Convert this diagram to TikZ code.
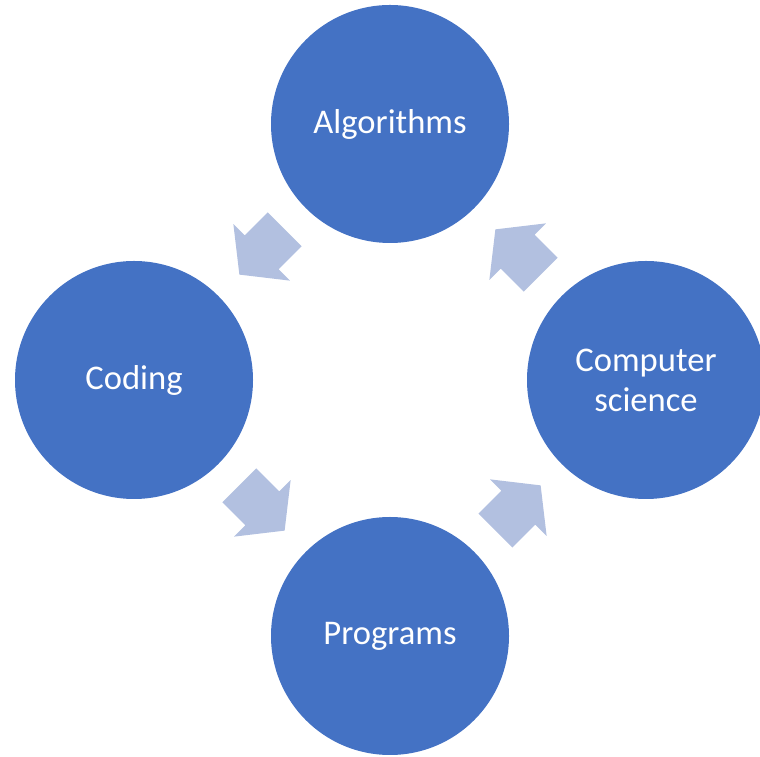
\documentclass[tikz,border=0pt]{standalone}
\usepackage{fontspec}
\setmainfont{Carlito}
\usetikzlibrary{calc}

\definecolor{circblue}{RGB}{68,114,196}
\definecolor{arrowblue}{RGB}{178,192,224}

\tikzset{
  stage/.style={circle, fill=circblue, minimum size=238pt, inner sep=0pt,
    text=white, align=center, font=\fontsize{34.6}{40}\selectfont},
  cyclearrow/.pic={
    \fill[arrowblue] (-32,24) -- (0.5,24) -- (0.5,40) -- (32,0)
      -- (0.5,-40) -- (0.5,-24) -- (-32,-24) -- cycle;
  }
}

\begin{document}
\begin{tikzpicture}[x=1pt,y=1pt]
  \useasboundingbox (0,0) rectangle (760,757);
  \clip (0,0) rectangle (760,757);

  % the four stages of the cycle
  \node[stage] (alg) at (390,633) {Algorithms};
  \node[stage] (cod) at (134,377) {Coding};
  \node[stage] (prg) at (390,121) {Programs};
  \node[stage] (cs)  at (646,377) {Computer\\science};

  % block arrows halfway between neighbouring stages
  \pic[rotate=225] at ($(alg)!0.5!(cod)$) {cyclearrow};
  \pic[rotate=-45] at ($(cod)!0.5!(prg)$) {cyclearrow};
  \pic[rotate=45]  at ($(prg)!0.5!(cs)$)  {cyclearrow};
  \pic[rotate=135] at ($(cs)!0.5!(alg)$)  {cyclearrow};
\end{tikzpicture}
\end{document}
